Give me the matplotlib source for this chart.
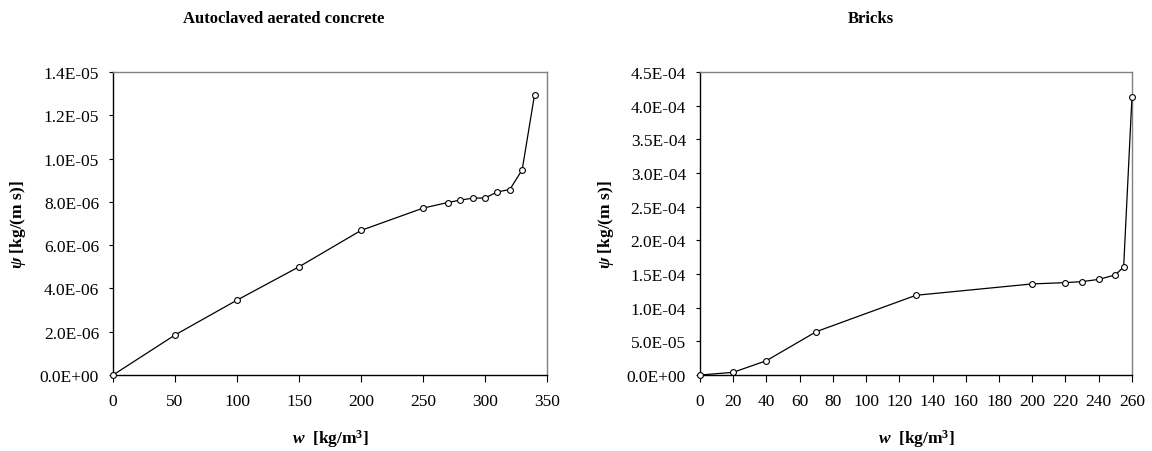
import matplotlib
matplotlib.use("Agg")
import matplotlib.pyplot as plt
from matplotlib.ticker import FuncFormatter, MultipleLocator

plt.rcParams['font.family'] = ['Liberation Serif', 'DejaVu Serif']
plt.rcParams['mathtext.fontset'] = 'custom'
plt.rcParams['mathtext.rm'] = 'Liberation Serif'
plt.rcParams['mathtext.bf'] = 'Liberation Serif:bold'
plt.rcParams['mathtext.it'] = 'Liberation Serif:italic'
plt.rcParams['mathtext.bfit'] = 'Liberation Serif:bold:italic'

# autoclaved aerated concrete
aac_w = [0, 50, 100, 150, 200, 250, 270, 280, 290, 300, 310, 320, 330, 340]
aac_psi = [0.0, 1.85e-6, 3.46e-6, 5.0e-6, 6.68e-6, 7.71e-6, 7.97e-6, 8.08e-6,
           8.17e-6, 8.18e-6, 8.46e-6, 8.57e-6, 9.48e-6, 1.296e-5]

# bricks
brick_w = [0, 20, 40, 70, 130, 200, 220, 230, 240, 250, 255, 260]
brick_psi = [0.0, 4.0e-6, 2.13e-5, 6.44e-5, 1.184e-4, 1.353e-4, 1.372e-4,
             1.387e-4, 1.42e-4, 1.487e-4, 1.605e-4, 4.125e-4]

titles = ["Autoclaved aerated concrete", "Bricks"]

fig = plt.figure(figsize=(11.52, 4.52), dpi=100)
ax1 = fig.add_axes([0.0981, 0.1681, 0.3767, 0.6704])
ax2 = fig.add_axes([0.6076, 0.1681, 0.375, 0.6704])

sci = FuncFormatter(lambda v, p: "{:.1E}".format(v))


def style_panel(ax, xs, ys, xmax, xstep, ymax, ystep):
    ax.plot(xs, ys, color='black', lw=0.9, marker='o', markersize=4.2,
            markerfacecolor='white', markeredgecolor='black', markeredgewidth=0.8,
            clip_on=False, zorder=3)
    ax.set_xlim(0, xmax)
    ax.set_ylim(0, ymax)
    ax.xaxis.set_major_locator(MultipleLocator(xstep))
    ax.yaxis.set_major_locator(MultipleLocator(ystep))
    ax.yaxis.set_major_formatter(sci)
    ax.tick_params(axis='x', direction='out', length=5, width=0.8, pad=8, labelsize=12.5)
    ax.tick_params(axis='y', direction='out', length=3, width=0.8, pad=7, labelsize=12.5)
    for s in ['left', 'bottom']:
        ax.spines[s].set_color('black')
        ax.spines[s].set_linewidth(1.0)
    for s in ['top', 'right']:
        ax.spines[s].set_color('#808080')
        ax.spines[s].set_linewidth(1.0)
    ax.set_xlabel(r'$\mathbfit{w}$  [kg/m$^{\mathbf{3}}$]', fontsize=12.5, fontweight='bold')
    ax.set_ylabel(r'$\mathbfit{\psi}$ [kg/(m s)]', fontsize=12.5, fontweight='bold')
    ax.xaxis.set_label_coords(0.5, -0.172)
    ax.yaxis.set_label_coords(-0.195, 0.5)


style_panel(ax1, aac_w, aac_psi, 350, 50, 1.4e-5, 2e-6)
style_panel(ax2, brick_w, brick_psi, 260, 20, 4.5e-4, 5e-5)

fig.text(284 / 1152, 1 - 19 / 452, titles[0], ha='center', va='center',
         fontsize=12, fontweight='bold')
fig.text(871 / 1152, 1 - 19 / 452, titles[1], ha='center', va='center',
         fontsize=12, fontweight='bold')

fig.savefig("out.png", dpi=100, facecolor='white')
